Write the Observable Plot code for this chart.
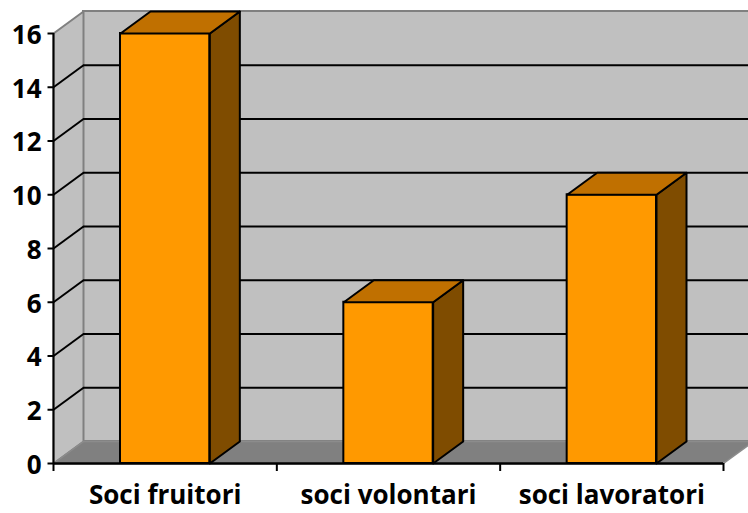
<!DOCTYPE html>
<html><head><meta charset="utf-8">
<script src="https://cdn.jsdelivr.net/npm/d3@7"></script>
<script src="https://cdn.jsdelivr.net/npm/@observablehq/plot@0.6"></script>
<style>body{margin:0;background:#fff;overflow:hidden} svg{display:block}</style>
</head><body><div id="chart"></div><script>
const categories = ["Soci fruitori", "soci volontari", "soci lavoratori"];
const values = [16, 6, 10];
const yTicks = [0, 2, 4, 6, 8, 10, 12, 14, 16];
const gridVals = [2, 4, 6, 8, 10, 12, 14];

const W = 748, H = 513;
const X0 = 53, X1 = 723, Y0 = 463, Y1 = 33;
const DX = 30, DY = 22;             // 3D depth offset in px
const ux = 3 / (X1 - X0), uy = 16 / (Y0 - Y1);
const ox = DX * ux, oy = DY * uy;   // depth in data units
const barL = 0.3, barR = 0.7;

function poly(id, pts) { return pts.concat([pts[0]]).map(([x, y]) => ({id, x, y})); }

const leftWall = poly("lw", [[0, 0], [0, 16], [ox, 16 + oy], [ox, oy]]);
const floor = poly("fl", [[0, 0], [3, 0], [3 + ox, oy], [ox, oy]]);
const sides = values.flatMap((v, i) => poly("s" + i, [[i + barR, 0], [i + barR, v], [i + barR + ox, v + oy], [i + barR + ox, oy]]));
const tops = values.flatMap((v, i) => poly("t" + i, [[i + barL, v], [i + barR, v], [i + barR + ox, v + oy], [i + barL + ox, v + oy]]));
const bars = values.map((v, i) => ({i, v}));

const chart = Plot.plot({
  width: W, height: H,
  style: {fontFamily: "'Open Sans', Lato, sans-serif", color: "black", background: "white"},
  x: {type: "linear", domain: [0, 3], range: [X0, X1], axis: null},
  y: {type: "linear", domain: [0, 16], range: [Y0, Y1], axis: null},
  marks: [
    Plot.rect([0], {x1: 0, x2: 3, y1: 0, y2: 16, dx: DX, dy: -DY, fill: "#C0C0C0", stroke: "#808080", strokeWidth: 2}),
    Plot.line(leftWall, {x: "x", y: "y", z: "id", fill: "#C0C0C0", stroke: "#808080", strokeWidth: 2}),
    Plot.ruleY(gridVals, {x1: 0, x2: 3, dx: DX, dy: -DY, stroke: "black", strokeWidth: 2}),
    Plot.link(gridVals, {x1: 0, y1: d => d, x2: ox, y2: d => d + oy, stroke: "black", strokeWidth: 2}),
    Plot.line(floor, {x: "x", y: "y", z: "id", fill: "#808080", stroke: "#8c8c8c", strokeWidth: 1.5}),
    Plot.rect(bars, {x1: d => d.i + barL, x2: d => d.i + barR, y1: 0, y2: d => d.v, fill: "#FF9900", stroke: "black", strokeWidth: 2}),
    Plot.line(sides, {x: "x", y: "y", z: "id", fill: "#7F4C00", stroke: "black", strokeWidth: 2, strokeLinejoin: "round"}),
    Plot.line(tops, {x: "x", y: "y", z: "id", fill: "#C07000", stroke: "black", strokeWidth: 2, strokeLinejoin: "round"}),
    Plot.ruleX([0], {y1: 0, y2: 16, stroke: "black", strokeWidth: 2}),
    Plot.link(yTicks, {x1: 0, x2: -6 * ux, y1: d => d, y2: d => d, stroke: "black", strokeWidth: 2}),
    Plot.ruleY([0], {x1: 0, x2: 3, stroke: "black", strokeWidth: 2.5}),
    Plot.ruleX([0, 1, 2, 3], {y1: 0, y2: -8 * uy, stroke: "black", strokeWidth: 2}),
    Plot.text(yTicks, {x: 0, y: d => d, text: d => String(d), textAnchor: "end", dx: -12, dy: 2, fontSize: 26, fontWeight: "bold", fill: "black"}),
    Plot.text(categories, {x: (d, i) => i + 0.5, y: 0, text: d => d, dy: 32, fontSize: 26, fontWeight: "bold", fill: "black"})
  ]
});
document.getElementById("chart").appendChild(chart);
</script></body></html>
